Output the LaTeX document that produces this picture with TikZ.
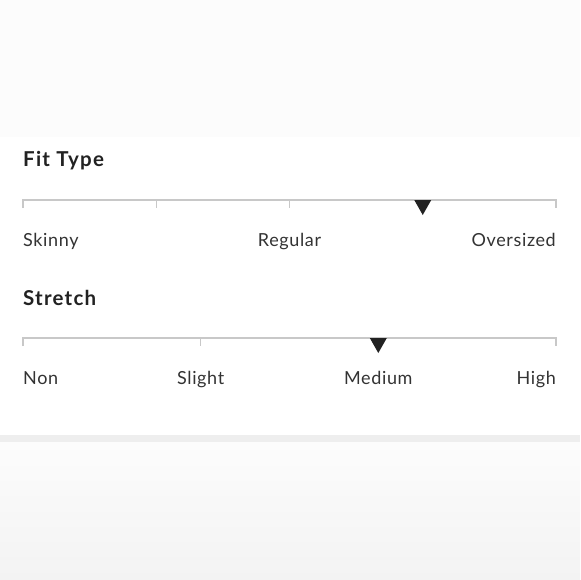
\documentclass[tikz,border=0pt]{standalone}
\usepackage{fontspec}
\setmainfont{Lato}
\newfontfamily\lblfont[LetterSpace=3.5]{Lato}
\newfontfamily\headfont[LetterSpace=6]{Lato}
\definecolor{topbg}{HTML}{FCFCFC}
\definecolor{band}{HTML}{EEEEEE}
\definecolor{botA}{HTML}{FCFCFC}
\definecolor{botB}{HTML}{F3F3F3}
\definecolor{scale}{HTML}{C8C8C8}
\definecolor{ink}{HTML}{222222}
\definecolor{txt}{HTML}{333333}
\begin{document}
\begin{tikzpicture}[x=1pt,y=-1pt,
  heading/.style={font=\headfont\fontsize{20.5}{24}\selectfont\bfseries, text=ink, inner sep=0pt, anchor=base west},
  lbl/.style={font=\lblfont\fontsize{18}{21}\selectfont, text=txt, inner sep=0pt},
  scaleline/.style={draw=scale, line width=1.5pt},
  marker/.style={fill=ink, draw=none}]
\useasboundingbox (0,0) rectangle (580,580);
\fill[topbg] (0,0) rectangle (580,137);
\fill[white] (0,137) rectangle (580,435);
\fill[band] (0,435) rectangle (580,442);
\shade[top color=botA, bottom color=botB] (0,442) rectangle (580,580);
% Fit Type
\node[heading] (fit) at (23,167) {Fit Type};
\coordinate (a0) at (23,200);
\coordinate (a1) at (156.25,200);
\coordinate (a2) at (289.5,200);
\coordinate (a3) at (422.75,200);
\coordinate (a4) at (556,200);
\draw[scaleline] ([yshift=-8pt]a0) -- (a0) -- (a4) -- ([yshift=-8pt]a4);
\draw[scaleline] (a1) -- ([yshift=-8pt]a1);
\draw[scaleline] (a2) -- ([yshift=-8pt]a2);
\fill[marker] ([xshift=-8.5pt]a3) -- ([xshift=8.5pt]a3) -- ([yshift=-15pt]a3) -- cycle;
\node[lbl, anchor=base west] (skinny) at (23,246) {Skinny};
\node[lbl, anchor=base] (regular) at (289.5,246) {Regular};
\node[lbl, anchor=base east] (over) at (556,246) {Oversized};
% Stretch
\node[heading] (stretch) at (23,305) {Stretch};
\coordinate (b0) at (23,338);
\coordinate (b1) at (200.7,338);
\coordinate (b2) at (378.3,338);
\coordinate (b3) at (556,338);
\draw[scaleline] ([yshift=-8pt]b0) -- (b0) -- (b3) -- ([yshift=-8pt]b3);
\draw[scaleline] (b1) -- ([yshift=-8pt]b1);
\fill[marker] ([xshift=-8.5pt]b2) -- ([xshift=8.5pt]b2) -- ([yshift=-15pt]b2) -- cycle;
\node[lbl, anchor=base west] (non) at (23,384) {Non};
\node[lbl, anchor=base] (slight) at (200.7,384) {Slight};
\node[lbl, anchor=base] (medium) at (378.3,384) {Medium};
\node[lbl, anchor=base east] (high) at (556,384) {High};
\end{tikzpicture}
\end{document}
